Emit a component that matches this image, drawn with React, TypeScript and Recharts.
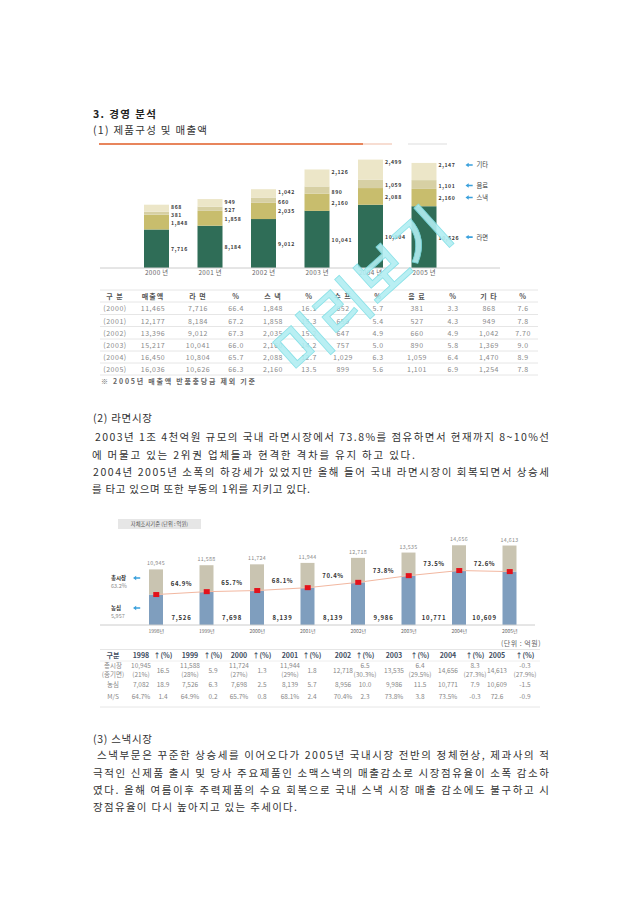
import React from 'react';
import { ComposedChart, Bar, Line, XAxis, YAxis, LabelList } from 'recharts';

const FONT = "'Noto Sans CJK KR', 'Noto Sans', sans-serif";

// ---------- Chart 1: 제품구성 및 매출액 ----------
const years1 = ['2000 년', '2001 년', '2002 년', '2003 년', '2004 년', '2005 년'];
const ramen = [7716, 8184, 9012, 10041, 10804, 10626];
const snack = [1848, 1858, 2035, 2160, 2088, 2160];
const drink = [381, 527, 660, 890, 1059, 1101];
const others = [868, 949, 1042, 2126, 2499, 2147];
const series1Names = ['라면', '스낵', '음료', '기타'];

const data1 = years1.map((year, i) => ({
  year,
  ramen: ramen[i],
  snack: snack[i],
  drink: drink[i],
  others: others[i],
}));

// ---------- Table 1 ----------
const table1Header = ['구 분', '매출액', '라 면', '%', '스 낵', '%', '수 프', '%', '음 료', '%', '기 타', '%'];
const table1Rows = [
  ['(2000)', '11,465', '7,716', '66.4', '1,848', '16.1', '652', '5.7', '381', '3.3', '868', '7.6'],
  ['(2001)', '12,177', '8,184', '67.2', '1,858', '15.3', '659', '5.4', '527', '4.3', '949', '7.8'],
  ['(2002)', '13,396', '9,012', '67.3', '2,035', '15.2', '647', '4.9', '660', '4.9', '1,042', '7.70'],
  ['(2003)', '15,217', '10,041', '66.0', '2,160', '14.2', '757', '5.0', '890', '5.8', '1,369', '9.0'],
  ['(2004)', '16,450', '10,804', '65.7', '2,088', '12.7', '1,029', '6.3', '1,059', '6.4', '1,470', '8.9'],
  ['(2005)', '16,036', '10,626', '66.3', '2,160', '13.5', '899', '5.6', '1,101', '6.9', '1,254', '7.8'],
];
const table1Cols = [115, 153, 198, 236, 273, 309, 343, 378, 417, 453, 489, 523];
const table1RowY = [308, 320.5, 332.5, 345, 357, 369];

// ---------- Chart 2: 라면시장 ----------
const years2 = ['1998년', '1999년', '2000년', '2001년', '2002년', '2003년', '2004년', '2005년'];
const totalMarket = [10945, 11588, 11724, 11944, 12718, 13535, 14656, 14613];
const nongshim = [7082, 7526, 7698, 8139, 8956, 9986, 10771, 10609];
const share = [64.7, 64.9, 65.7, 68.1, 70.4, 73.8, 73.5, 72.6];
const nongshimChartLabels = ['7,082', '7,526', '7,698', '8,139', '8,139', '9,986', '10,771', '10,609'];

const data2 = years2.map((year, i) => ({
  year,
  nongshim: nongshim[i],
  rest: totalMarket[i] - nongshim[i],
  total: totalMarket[i],
  share: share[i],
  nsLabel: nongshimChartLabels[i],
}));

// ---------- Table 2 ----------
const table2Header = ['구분', '1998', '↑(%)', '1999', '↑(%)', '2000', '↑(%)', '2001', '↑(%)', '2002', '↑(%)', '2003', '↑(%)', '2004', '↑(%)', '2005', '↑(%)'];
const table2Total = [
  ['총시장', '(종기면)'], ['10,945', '(21%)'], ['16.5'], ['11,588', '(28%)'], ['5.9'], ['11,724', '(27%)'], ['1.3'],
  ['11,944', '(29%)'], ['1.8'], ['12,718'], ['6.5', '(30.3%)'], ['13,535'], ['6.4', '(29.5%)'], ['14,656'], ['8.3', '(27.3%)'],
  ['14,613'], ['-0.3', '(27.9%)'],
];
const table2Nong = ['농심', '7,082', '18.9', '7,526', '6.3', '7,698', '2.5', '8,139', '5.7', '8,956', '10.0', '9,986', '11.5', '10,771', '7.9', '10,609', '-1.5'];
const table2MS = ['M/S', '64.7%', '1.4', '64.9%', '0.2', '65.7%', '0.8', '68.1%', '2.4', '70.4%', '2.3', '73.8%', '3.8', '73.5%', '-0.3', '72.6', '-0.9'];
const table2Cols = [113, 141, 163, 190, 213, 239, 262, 290, 312, 343, 365, 394, 420, 448, 475, 497, 525];

// ---------- Texts ----------
const para2 = [
  { t: '2003년 1조 4천억원 규모의 국내 라면시장에서 73.8%를 점유하면서 현재까지 8~10%선', x: 95, len: 454, y: 436 },
  { t: '에 머물고 있는 2위권 업체들과 현격한 격차를 유지 하고 있다.', x: 92, len: 323, y: 454 },
  { t: '2004년 2005년 소폭의 하강세가 있었지만 올해 들어 국내 라면시장이 회복되면서 상승세', x: 93, len: 456, y: 471 },
  { t: '를 타고 있으며 또한 부동의 1위를 지키고 있다.', x: 92, len: 218, y: 488 },
];
const para3 = [
  { t: '스낵부문은 꾸준한 상승세를 이어오다가 2005년 국내시장 전반의 정체현상, 제과사의 적', x: 97, len: 452, y: 754 },
  { t: '극적인 신제품 출시 및 당사 주요제품인 소맥스낵의 매출감소로 시장점유율이 소폭 감소하', x: 93, len: 456, y: 772 },
  { t: '였다. 올해 여름이후 주력제품의 수요 회복으로 국내 스낵 시장 매출 감소에도 불구하고 시', x: 93, len: 456, y: 789 },
  { t: '장점유율이 다시 높아지고 있는 추세이다.', x: 93, len: 204, y: 806 },
];

const T = ({ x, y, children, size = 11, anchor = 'start', weight = 400, fill = '#333', len, ls }: any) => (
  <text
    x={x}
    y={y}
    fontSize={size}
    textAnchor={anchor}
    fontWeight={weight}
    fill={fill}
    dominantBaseline="central"
    fontFamily={FONT}
    letterSpacing={ls}
    textLength={len}
    lengthAdjust={len ? 'spacing' : undefined}
  >
    {children}
  </text>
);

const getBox = (p: any) => {
  const vb = p.viewBox || {};
  return {
    x: vb.x ?? p.x,
    y: vb.y ?? p.y,
    width: vb.width ?? p.width,
    height: vb.height ?? p.height,
  };
};

const Arrow = ({ x, y }: any) => (
  <path d={`M${x} ${y} l3.2 -2.2 v1.4 h4 v1.6 h-4 v1.4 z`} fill="#3aa0dc" />
);

// mode: 'top' places label near segment top, 'mid' at centre, 'midLow' slightly below centre
const makeSegLabel = (name: string, mode: string) => (p: any) => {
  const { x, y, width, height } = getBox(p);
  const ty = mode === 'top' ? y + 2 : mode === 'midLow' ? y + height / 2 + 1 : y + height / 2;
  const last = p.index === data1.length - 1;
  return (
    <g>
      <text x={x + width + 2} y={ty} fontSize={5.2} fontWeight={700} fill="#3a3a3a" dominantBaseline="central" letterSpacing={0.6} fontFamily={FONT}>
        {Number(p.value).toLocaleString('en-US')}
      </text>
      {last && (
        <g>
          <Arrow x={x + width + 29} y={ty} />
          <text x={x + width + 40} y={ty} fontSize={6.3} fill="#444" dominantBaseline="central" fontFamily={FONT}>
            {name}
          </text>
        </g>
      )}
    </g>
  );
};

const totalLabel = (p: any) => {
  const { x, y, width } = getBox(p);
  return (
    <text x={x + width / 2} y={y - 6} fontSize={5.3} fill="#888" textAnchor="middle" dominantBaseline="central" fontFamily={FONT} letterSpacing={0.3}>
      {Number(p.value).toLocaleString('en-US')}
    </text>
  );
};

const shareLabel = (p: any) => {
  if (p.index === 0) return null;
  const { x, y, width } = getBox(p);
  return (
    <text x={x + width / 2 - 25} y={y + 18} fontSize={6} fontWeight={700} fill="#333" textAnchor="middle" dominantBaseline="central" fontFamily={FONT} letterSpacing={0.6}>
      {Number(p.value).toFixed(1)}%
    </text>
  );
};

const nsLabel = (p: any) => {
  if (p.index === 0) return null;
  const { x, y, width, height } = getBox(p);
  return (
    <text x={x + width / 2 - 25} y={y + height - 8} fontSize={6} fontWeight={700} fill="#333" textAnchor="middle" dominantBaseline="central" fontFamily={FONT} letterSpacing={0.8}>
      {p.value}
    </text>
  );
};

const redDot = (p: any) => (
  <rect key={`dot-${p.index}`} x={p.cx - 3} y={p.cy - 2.5} width={6} height={5} fill="#e3121b" />
);

export default function App() {
  return (
    <div style={{ position: 'absolute', left: 0, top: 0, width: 640, height: 905, background: '#fff', overflow: 'hidden', fontFamily: FONT }}>
      <svg width={640} height={905} style={{ position: 'absolute', left: 0, top: 0 }}>
        {/* headings */}
        <T x={93} y={113} size={10.5} weight={700} fill="#222" len={63}>3. 경영 분석</T>
        <T x={93} y={129} size={10.5} fill="#333" len={114}>(1) 제품구성 및 매출액</T>
        <line x1={99} y1={144} x2={363} y2={144} stroke="#e8855c" strokeWidth={2} />
        <line x1={363} y1={144} x2={392} y2={144} stroke="#f7ddd2" strokeWidth={2} />
        <line x1={408} y1={144} x2={447} y2={144} stroke="#eeeeee" strokeWidth={2} />

        {/* table 1 */}
        {[290, 302, 314.5, 326.5, 339, 351, 363, 375].map((ly) => (
          <line key={ly} x1={100} y1={ly} x2={538} y2={ly} stroke="#e6e6e6" strokeWidth={1} />
        ))}
        {table1Header.map((h, i) => (
          <T key={`h1-${i}`} x={table1Cols[i]} y={296} size={7} anchor="middle" weight={700} fill="#555" ls={1}>{h}</T>
        ))}
        {table1Rows.map((row, r) =>
          row.map((c, i) => (
            <T key={`c1-${r}-${i}`} x={table1Cols[i]} y={table1RowY[r]} size={7} anchor="middle" fill="#8a8a8a" ls={0.5}>{c}</T>
          ))
        )}
        <T x={101} y={381} size={7} weight={700} fill="#666" len={154}>※ 2005년 매출액 반품충당금 제외 기준</T>

        {/* section 2 */}
        <T x={93} y={417} size={10.5} fill="#333" len={59}>(2) 라면시장</T>
        {para2.map((l, i) => (
          <T key={`p2-${i}`} x={l.x} y={l.y} size={10.5} fill="#333" len={l.len}>{l.t}</T>
        ))}

        {/* chart 2 annotations */}
        <rect x={118} y={519} width={83} height={10} fill="#e6e6e6" />
        <T x={159.5} y={524} size={5.3} anchor="middle" fill="#555">자체조사기준 (단위 : 억원)</T>
        <T x={111} y={578} size={5.5} weight={700} fill="#333">총시장</T>
        <Arrow x={133} y={578} />
        <T x={111} y={586} size={5.5} fill="#888">63.2%</T>
        <T x={111} y={608} size={5.5} weight={700} fill="#333">농심</T>
        <Arrow x={133} y={608} />
        <T x={111} y={616} size={5.5} fill="#888">5,957</T>

        {/* table 2 */}
        <T x={541} y={643} size={7} anchor="end" fill="#666" ls={0.5}>(단위 : 억원)</T>
        <line x1={100} y1={649.5} x2={540} y2={649.5} stroke="#e6e6e6" />
        <line x1={100} y1={661} x2={540} y2={661} stroke="#eeeeee" />
        <line x1={100} y1={707} x2={540} y2={707} stroke="#e6e6e6" />
        {table2Header.map((h, i) => (
          <T key={`h2-${i}`} x={table2Cols[i]} y={655} size={7} anchor="middle" weight={700} fill="#3f4e62">{h}</T>
        ))}
        {table2Total.map((cell, i) =>
          cell.length === 2 ? (
            <g key={`t2a-${i}`}>
              <T x={table2Cols[i]} y={665} size={6.5} anchor="middle" fill="#888">{cell[0]}</T>
              <T x={table2Cols[i]} y={673.5} size={6.5} anchor="middle" fill="#888">{cell[1]}</T>
            </g>
          ) : (
            <T key={`t2a-${i}`} x={table2Cols[i]} y={669.5} size={6.5} anchor="middle" fill="#888">{cell[0]}</T>
          )
        )}
        {table2Nong.map((c, i) => (
          <T key={`t2b-${i}`} x={table2Cols[i]} y={684} size={6.5} anchor="middle" fill="#888">{c}</T>
        ))}
        {table2MS.map((c, i) => (
          <T key={`t2c-${i}`} x={table2Cols[i]} y={695.5} size={6.5} anchor="middle" fill="#888">{c}</T>
        ))}

        {/* section 3 */}
        <T x={93} y={738} size={10.5} fill="#333" len={59}>(3) 스낵시장</T>
        {para3.map((l, i) => (
          <T key={`p3-${i}`} x={l.x} y={l.y} size={10.5} fill="#333" len={l.len}>{l.t}</T>
        ))}
      </svg>

      {/* Chart 1 */}
      <div style={{ position: 'absolute', left: 0, top: 140 }}>
        <ComposedChart width={640} height={150} data={data1} margin={{ top: 8, right: 140, bottom: 6, left: 100 }} style={{ fontFamily: FONT }}>
          <XAxis
            dataKey="year"
            height={16}
            tickLine={false}
            tickSize={0}
            tickMargin={3}
            axisLine={{ stroke: '#cccccc' }}
            padding={{ left: 30, right: 49 }}
            tick={{ fontSize: 6.3, fill: '#666', fontFamily: FONT, letterSpacing: 0.4 }}
            interval={0}
          />
          <YAxis hide domain={[2900, 17900]} allowDataOverflow />
          <Bar dataKey="ramen" stackId="a" fill="#2f6d57" barSize={25} isAnimationActive={false}>
            <LabelList dataKey="ramen" content={makeSegLabel(series1Names[0], 'mid')} />
          </Bar>
          <Bar dataKey="snack" stackId="a" fill="#c8bd6d" barSize={25} isAnimationActive={false}>
            <LabelList dataKey="snack" content={makeSegLabel(series1Names[1], 'mid')} />
          </Bar>
          <Bar dataKey="drink" stackId="a" fill="#d7d0a4" barSize={25} isAnimationActive={false}>
            <LabelList dataKey="drink" content={makeSegLabel(series1Names[2], 'midLow')} />
          </Bar>
          <Bar dataKey="others" stackId="a" fill="#ece6c8" barSize={25} isAnimationActive={false}>
            <LabelList dataKey="others" content={makeSegLabel(series1Names[3], 'top')} />
          </Bar>
        </ComposedChart>
      </div>

      {/* Chart 2 */}
      <div style={{ position: 'absolute', left: 0, top: 500 }}>
        <ComposedChart width={640} height={140} data={data2} margin={{ top: 30, right: 105, bottom: 3, left: 100 }} style={{ fontFamily: FONT }}>
          <XAxis
            dataKey="year"
            height={12}
            tickLine={false}
            tickSize={0}
            tickMargin={4}
            axisLine={{ stroke: '#cccccc' }}
            padding={{ left: 31, right: 0 }}
            tick={{ fontSize: 5, fill: '#666', fontFamily: FONT }}
            interval={0}
          />
          <YAxis hide domain={[2400, 17000]} allowDataOverflow />
          <Bar dataKey="nongshim" stackId="m" fill="#7f9ebe" barSize={14} isAnimationActive={false}>
            <LabelList dataKey="nsLabel" content={nsLabel} />
          </Bar>
          <Bar dataKey="rest" stackId="m" fill="#c9c4b1" barSize={14} isAnimationActive={false}>
            <LabelList dataKey="total" content={totalLabel} />
            <LabelList dataKey="share" content={shareLabel} />
          </Bar>
          <Line dataKey="nongshim" stroke="#f2b7a0" strokeWidth={1} dot={redDot} activeDot={false} isAnimationActive={false} />
        </ComposedChart>
      </div>

      {/* watermark */}
      <svg width={640} height={905} style={{ position: 'absolute', left: 0, top: 0, pointerEvents: 'none' }}>
        <text
          x={360}
          y={288}
          fontSize={58}
          fill="#b2eef2"
          stroke="#7fdfe6"
          strokeWidth={0.8}
          textAnchor="middle"
          dominantBaseline="central"
          transform="rotate(-42 360 288)"
          fontFamily={FONT}
          fontWeight={500}
          opacity={0.9}
        >
          미리보기
        </text>
      </svg>
    </div>
  );
}
